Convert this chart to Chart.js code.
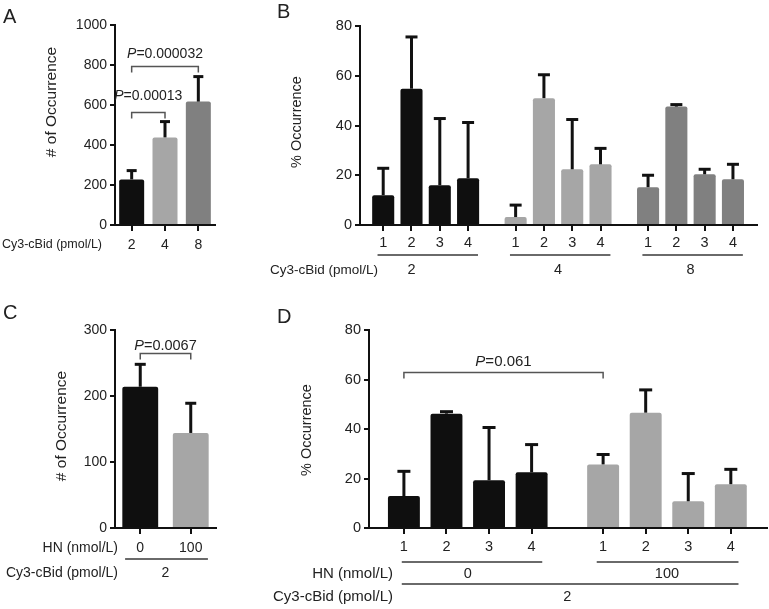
<!DOCTYPE html>
<html>
<head>
<meta charset="utf-8">
<script src="https://cdn.jsdelivr.net/npm/chart.js@4.4.0/dist/chart.umd.min.js"></script>
<style>
  body { margin: 0; background: #fff; }
  #wrap { position: relative; width: 769px; height: 609px; overflow: hidden; }
  canvas { position: absolute; }
</style>
</head>
<body>
<div id="wrap">
  <canvas id="chartA" width="230" height="290" style="left:0px;top:0px"></canvas>
  <canvas id="chartB" width="539" height="290" style="left:230px;top:0px"></canvas>
  <canvas id="chartC" width="230" height="319" style="left:0px;top:290px"></canvas>
  <canvas id="chartD" width="539" height="319" style="left:230px;top:290px"></canvas>
</div>
<script>
const FONT = '"Liberation Sans", Arial, Helvetica, sans-serif';
const INK = '#111111';
const TEXT = '#222222';
const BLACK = '#0f0f0f', LIGHT = '#a6a6a6', DARK = '#808080';
const GROUP_STEP = 4.68;   // distance between first bars of two groups (B, D)

// Panel A - # of occurrence per Cy3-cBid dose
const aDoses = ['2', '4', '8'];
const aCounts = [228, 438, 617];
const aSem = [44, 79, 125];

// Panel B - % occurrence of states 1-4, per dose
const bDoses = ['2', '4', '8'];
const bStates = ['1', '2', '3', '4'];
const bDose2 = [12, 54.8, 16, 18.8];
const bDose2Sem = [10.8, 20.8, 26.8, 22.4];
const bDose4 = [3.2, 51, 22.4, 24.4];
const bDose4Sem = [4.8, 9.4, 20, 6.4];
const bDose8 = [15.2, 47.6, 20.4, 18.4];
const bDose8Sem = [4.8, 0.8, 2, 6];

// Panel C - # of occurrence with HN
const cHN = ['0', '100'];
const cCounts = [214, 144];
const cSem = [34, 45];

// Panel D - % occurrence of states 1-4 with HN
const dHN = ['0', '100'];
const dStates = ['1', '2', '3', '4'];
const dHN0 = [12.9, 46.2, 19.3, 22.5];
const dHN0Sem = [10, 0.8, 21.3, 11.2];
const dHN100 = [25.7, 46.6, 10.8, 17.7];
const dHN100Sem = [4, 9.2, 11.2, 6];

// flatten grouped series onto a linear x axis
function grouped(series, sems, colors, states) {
  const out = { points: [], errors: [], colors: [], ticks: [], labels: [] };
  series.forEach((vals, g) => vals.forEach((v, i) => {
    const x = g * GROUP_STEP + i;
    out.points.push({ x: x, y: v });
    out.errors.push(sems[g][i]);
    out.colors.push(colors[g]);
    out.ticks.push(x);
    out.labels.push(states[i]);
  }));
  return out;
}

function drawP(ctx, cx, cy, val, size) {
  ctx.font = 'italic ' + size + 'px ' + FONT;
  const wp = ctx.measureText('P').width;
  ctx.font = size + 'px ' + FONT;
  const wr = ctx.measureText('=' + val).width;
  const x = cx - (wp + wr) / 2;
  ctx.textAlign = 'left';
  ctx.textBaseline = 'middle';
  ctx.font = 'italic ' + size + 'px ' + FONT;
  ctx.fillText('P', x, cy);
  ctx.font = size + 'px ' + FONT;
  ctx.fillText('=' + val, x + wp, cy);
}

const errorBars = {
  id: 'errorBars',
  afterDatasetsDraw(chart) {
    const ctx = chart.ctx, ys = chart.scales.y;
    chart.data.datasets.forEach((ds, di) => {
      if (!ds.errors) return;
      const meta = chart.getDatasetMeta(di);
      meta.data.forEach((bar, i) => {
        const raw = ds.data[i];
        const v = typeof raw === 'object' ? raw.y : raw;
        const top = ys.getPixelForValue(v + ds.errors[i]);
        ctx.save();
        ctx.strokeStyle = INK;
        ctx.lineWidth = 3;
        ctx.beginPath();
        ctx.moveTo(bar.x, bar.y);
        ctx.lineTo(bar.x, top);
        ctx.stroke();
        ctx.beginPath();
        ctx.moveTo(bar.x - ds.capHalf, top);
        ctx.lineTo(bar.x + ds.capHalf, top);
        ctx.stroke();
        ctx.restore();
      });
    });
  }
};

function decor(o) {
  return {
    id: 'decor',
    afterDraw(chart) {
      const ctx = chart.ctx, xs = chart.scales.x, ys = chart.scales.y;
      ctx.save();
      ctx.fillStyle = TEXT;
      // panel letter
      ctx.font = '20px ' + FONT;
      ctx.textAlign = 'left';
      ctx.textBaseline = 'alphabetic';
      ctx.fillText(o.letter.text, o.letter.x, o.letter.y);
      // y title
      ctx.save();
      ctx.translate(o.yTitle.x, o.yTitle.y);
      ctx.rotate(-Math.PI / 2);
      ctx.font = o.yTitle.size + 'px ' + FONT;
      ctx.textAlign = 'center';
      ctx.textBaseline = 'middle';
      ctx.fillText(o.yTitle.text, 0, 0);
      ctx.restore();
      // significance brackets
      (o.brackets || []).forEach(b => {
        const x1 = xs.getPixelForValue(b.from), x2 = xs.getPixelForValue(b.to);
        const y = Math.round(ys.getPixelForValue(b.at)) + 0.5;
        ctx.strokeStyle = '#555';
        ctx.lineWidth = 1.5;
        ctx.beginPath();
        ctx.moveTo(x1, y + 6);
        ctx.lineTo(x1, y);
        ctx.lineTo(x2, y);
        ctx.lineTo(x2, y + 6);
        ctx.stroke();
        drawP(ctx, (x1 + x2) / 2, y - b.gap, b.text, b.size);
      });
      // group underlines
      ctx.strokeStyle = '#6a6a6a';
      ctx.lineWidth = 2;
      (o.lines || []).forEach(l => {
        ctx.beginPath();
        ctx.moveTo(xs.getPixelForValue(l.from), l.y);
        ctx.lineTo(xs.getPixelForValue(l.to), l.y);
        ctx.stroke();
      });
      // group labels
      ctx.textBaseline = 'middle';
      ctx.textAlign = 'center';
      ctx.font = o.tickSize + 'px ' + FONT;
      (o.groupLabels || []).forEach(g => ctx.fillText(g.text, xs.getPixelForValue(g.at), g.y));
      // row labels on the left
      ctx.textAlign = 'right';
      ctx.font = o.rowSize + 'px ' + FONT;
      (o.rowLabels || []).forEach(r => ctx.fillText(r.text, r.right, r.y));
      ctx.restore();
    }
  };
}

function panel(id, o) {
  const cv = document.getElementById(id);
  const W = cv.width, H = cv.height, a = o.area;
  const tickFont = { family: FONT, size: o.tickSize };
  const xScale = o.linear ? {
    type: 'linear', min: o.xMin, max: o.xMax,
    afterBuildTicks: s => { s.ticks = o.tickPos.map(v => ({ value: v })); },
    ticks: { callback: (v, i) => o.tickLabels[i] }
  } : { type: 'category' };
  Object.assign(xScale, {
    offset: !o.linear,
    afterFit: s => { s.height = H - a.bottom; },
    grid: { offset: false, drawOnChartArea: false, drawTicks: true, tickLength: 6,
            color: INK, tickColor: INK, tickWidth: 2, lineWidth: 2 },
    border: { display: true, color: INK, width: 2 }
  });
  xScale.ticks = Object.assign(xScale.ticks || {}, {
    color: TEXT, font: tickFont, padding: o.xPad, autoSkip: false, maxRotation: 0, minRotation: 0
  });

  new Chart(cv, {
    type: 'bar',
    data: {
      labels: o.labels,
      datasets: [{
        data: o.data,
        errors: o.errors,
        capHalf: o.capHalf,
        backgroundColor: o.colors,
        borderWidth: 0,
        borderRadius: 2,
        barPercentage: o.barPct,
        categoryPercentage: 1
      }]
    },
    options: {
      responsive: false,
      animation: false,
      devicePixelRatio: 1,
      layout: { padding: { left: 0, top: a.top, right: W - a.right, bottom: 0 } },
      plugins: { legend: { display: false }, tooltip: { enabled: false } },
      scales: {
        x: xScale,
        y: {
          min: 0, max: o.yMax,
          afterFit: s => { s.width = a.left; },
          ticks: { stepSize: o.yStep, color: TEXT, font: tickFont, padding: 3,
                   callback: v => String(v) },
          grid: { drawOnChartArea: false, drawTicks: true, tickLength: 5,
                  color: INK, tickColor: INK, tickWidth: 2, lineWidth: 2 },
          border: { display: true, color: INK, width: 2 }
        }
      }
    },
    plugins: [errorBars, decor(o)]
  });
}

// ---- A ----
panel('chartA', {
  area: { left: 115, right: 215, top: 25, bottom: 225 },
  labels: aDoses, data: aCounts, errors: aSem, colors: [BLACK, LIGHT, DARK],
  barPct: 0.75, capHalf: 5, yMax: 1000, yStep: 200, tickSize: 14, xPad: 5.6, rowSize: 12.5,
  letter: { text: 'A', x: 3, y: 23 },
  yTitle: { text: '# of Occurrence', x: 52, y: 102, size: 15.5 },
  brackets: [
    { from: 0, to: 1, at: 567, gap: 16, text: '0.00013', size: 14 },
    { from: 0, to: 2, at: 795, gap: 12, text: '0.000032', size: 14 }
  ],
  rowLabels: [{ text: 'Cy3-cBid (pmol/L)', right: 102, y: 245 }]
});

// ---- B ----
const bG = grouped([bDose2, bDose4, bDose8], [bDose2Sem, bDose4Sem, bDose8Sem], [BLACK, LIGHT, DARK], bStates);
panel('chartB', {
  area: { left: 130, right: 527, top: 26, bottom: 225 },
  linear: true, xMin: -0.82, xMax: 2 * GROUP_STEP + 3.85,
  tickPos: bG.ticks, tickLabels: bG.labels,
  data: bG.points, errors: bG.errors, colors: bG.colors,
  barPct: 0.78, capHalf: 6, yMax: 80, yStep: 20, tickSize: 14.5, xPad: 3.5, rowSize: 13.5,
  letter: { text: 'B', x: 47, y: 18 },
  yTitle: { text: '% Occurrence', x: 67, y: 122, size: 14.5 },
  lines: bDoses.map((d, g) => ({ from: g * GROUP_STEP - 0.2, to: g * GROUP_STEP + 3.35, y: 255 })),
  groupLabels: bDoses.map((d, g) => ({ text: d, at: g * GROUP_STEP + (g === 0 ? 1 : 1.5), y: 270 })),
  rowLabels: [{ text: 'Cy3-cBid (pmol/L)', right: 148, y: 270 }]
});

// ---- C ----
panel('chartC', {
  area: { left: 115, right: 216, top: 40, bottom: 238 },
  labels: cHN, data: cCounts, errors: cSem, colors: [BLACK, LIGHT],
  barPct: 0.71, capHalf: 5.5, yMax: 300, yStep: 100, tickSize: 14, xPad: 5.6, rowSize: 14,
  letter: { text: 'C', x: 3, y: 29 },
  yTitle: { text: '# of Occurrence', x: 62, y: 136, size: 15.5 },
  brackets: [{ from: 0, to: 1, at: 265, gap: 8, text: '0.0067', size: 14.5 }],
  lines: [{ from: -0.3, to: 1.34, y: 269 }],
  groupLabels: [{ text: '2', at: 0.5, y: 283 }],
  rowLabels: [
    { text: 'HN (nmol/L)', right: 118, y: 258 },
    { text: 'Cy3-cBid (pmol/L)', right: 118, y: 283 }
  ]
});

// ---- D ----
const dG = grouped([dHN0, dHN100], [dHN0Sem, dHN100Sem], [BLACK, LIGHT], dStates);
panel('chartD', {
  area: { left: 139, right: 537, top: 40, bottom: 238 },
  linear: true, xMin: -0.82, xMax: GROUP_STEP + 3.85,
  tickPos: dG.ticks, tickLabels: dG.labels,
  data: dG.points, errors: dG.errors, colors: dG.colors,
  barPct: 0.75, capHalf: 6.5, yMax: 80, yStep: 20, tickSize: 14.5, xPad: 4.3, rowSize: 15,
  letter: { text: 'D', x: 47, y: 33 },
  yTitle: { text: '% Occurrence', x: 77, y: 140, size: 14.5 },
  brackets: [{ from: 0, to: GROUP_STEP, at: 63, gap: 11, text: '0.061', size: 15 }],
  lines: [
    { from: -0.05, to: 3.25, y: 272 },
    { from: GROUP_STEP - 0.15, to: GROUP_STEP + 3.18, y: 272 },
    { from: -0.05, to: GROUP_STEP + 3.18, y: 294 }
  ],
  groupLabels: [
    { text: dHN[0], at: 1.5, y: 284 },
    { text: dHN[1], at: GROUP_STEP + 1.5, y: 284 },
    { text: '2', at: (GROUP_STEP + 3) / 2, y: 307 }
  ],
  rowLabels: [
    { text: 'HN (nmol/L)', right: 163, y: 284 },
    { text: 'Cy3-cBid (pmol/L)', right: 163, y: 307 }
  ]
});
</script>
</body>
</html>
